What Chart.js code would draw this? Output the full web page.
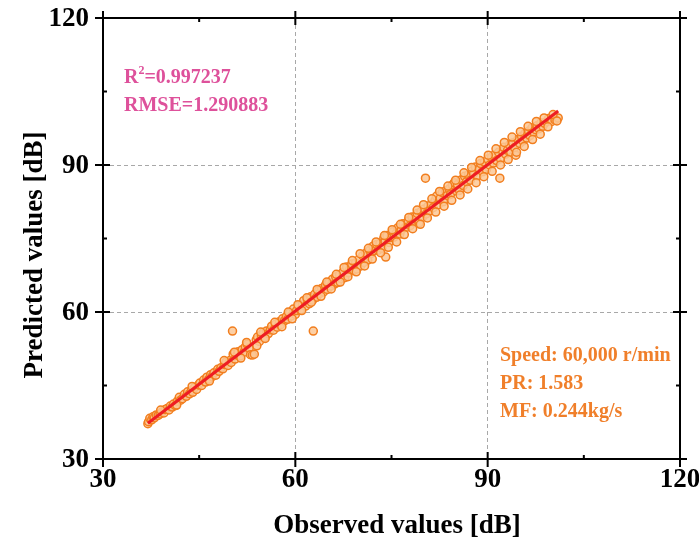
<!DOCTYPE html>
<html>
<head>
<meta charset="utf-8">
<script src="https://cdn.jsdelivr.net/npm/chart.js@4.4.1/dist/chart.umd.min.js"></script>
<style>
  html, body { margin: 0; padding: 0; background: #fff; }
  #wrap { width: 699px; height: 544px; }
</style>
</head>
<body>
<div id="wrap"><canvas id="fitChart" width="699" height="544"></canvas></div>
<script>
// observed / predicted pairs
const observed = [
  37.0, 37.1, 37.3, 37.6, 37.8, 38.0, 38.3, 38.6, 38.9, 39.2, 39.5, 39.7, 40.0, 40.3, 40.5, 40.8,
  41.0, 41.3, 41.6, 41.9, 42.1, 42.4, 42.7, 43.0, 43.2, 43.5, 43.8, 44.0, 44.3, 44.6, 44.9, 45.1,
  45.4, 45.7, 46.0, 46.2, 46.5, 46.8, 47.0, 47.3, 47.6, 47.9, 48.1, 48.4, 48.7, 49.0, 49.2, 49.5,
  49.8, 50.0, 50.2, 50.3, 50.6, 50.9, 51.1, 51.4, 51.7, 52.0, 52.2, 52.5, 52.8, 53.0, 53.3, 53.6,
  53.9, 54.1, 54.4, 54.7, 55.0, 55.2, 55.5, 55.8, 56.1, 56.3, 56.6, 56.9, 57.2, 57.5, 57.7, 58.0,
  58.3, 58.6, 58.8, 59.1, 59.4, 59.7, 60.0, 60.2, 60.5, 60.8, 61.1, 61.3, 61.6, 61.9, 62.2, 62.4,
  62.8, 62.7, 63.0, 63.3, 63.6, 63.8, 64.1, 64.4, 64.7, 65.0, 65.2, 65.5, 65.8, 66.1, 66.3, 66.6,
  66.9, 67.2, 67.4, 67.7, 68.0, 68.3, 68.5, 68.8, 69.1, 69.4, 69.6, 69.9, 70.2, 70.5, 70.7, 71.0,
  71.3, 71.6, 71.8, 72.1, 72.4, 72.7, 72.9, 73.2, 73.5, 73.8, 74.0, 74.1, 74.3, 74.6, 74.9, 75.2,
  75.4, 75.7, 76.0, 76.3, 76.5, 76.8, 77.1, 77.4, 77.6, 77.9, 78.2, 78.5, 78.7, 79.0, 79.3, 79.6,
  79.8, 80.1, 80.3, 80.4, 80.7, 80.9, 81.2, 81.5, 81.8, 82.0, 82.3, 82.6, 82.9, 83.1, 83.4, 83.7,
  84.0, 84.2, 84.5, 84.8, 85.1, 85.3, 85.6, 85.9, 86.2, 86.4, 86.7, 87.0, 87.3, 87.6, 87.8, 88.1,
  88.4, 88.7, 88.9, 89.2, 89.5, 89.8, 90.0, 90.3, 90.6, 90.9, 91.1, 91.4, 91.7, 91.9, 92.0, 92.3,
  92.5, 92.8, 93.1, 93.4, 93.6, 93.9, 94.2, 94.4, 94.7, 95.0, 95.3, 95.5, 95.8, 96.1, 96.4, 96.6,
  96.9, 97.2, 97.5, 97.7, 98.0, 98.3, 98.6, 98.9, 99.2, 99.5, 100.0, 100.5, 101.0,
  39.0, 41.5, 43.9, 46.6, 48.9, 50.5, 51.5, 52.4, 54.0, 54.6,
  55.3, 56.8, 57.9, 58.9, 59.5, 60.4, 61.0, 61.8, 62.5, 63.4, 64.0, 64.9, 65.6, 66.4, 67.0,
  67.6, 68.2, 68.9, 69.5, 70.1, 70.8, 71.4, 72.0, 72.6, 73.3, 73.9, 74.5, 75.1, 75.8, 76.4,
  77.0, 77.7, 78.3, 79.0, 79.5,
  80.0, 80.6, 81.3, 81.9, 82.5, 83.2, 83.8, 84.4, 85.0, 85.7, 86.3, 86.9, 87.5, 88.2, 88.8,
  89.4, 90.1, 90.7, 91.3, 92.0, 92.6, 93.2, 93.8, 94.5, 95.1, 95.7, 96.3, 97.0, 97.6, 98.2,
  98.8, 99.4, 100.2, 100.8
];
const predicted = [
  37.2, 37.6, 38.3, 38.0, 38.6, 38.4, 39.0, 38.9, 39.2, 39.6, 39.4, 40.1, 40.3, 40.0, 40.8, 40.6,
  41.2, 40.9, 41.8, 42.6, 42.0, 42.3, 43.2, 42.8, 43.7, 43.3, 44.0, 43.6, 44.6, 44.2, 45.1, 45.5,
  45.0, 46.1, 45.7, 46.7, 46.3, 47.2, 46.8, 47.6, 47.1, 48.3, 47.9, 48.6, 48.4, 49.3, 49.8, 49.1,
  50.1, 49.7, 56.1, 51.4, 50.4, 51.2, 51.9, 51.0, 52.3, 51.8, 52.9, 53.4, 52.6, 51.3, 51.2, 51.4,
  54.3, 54.9, 54.0, 55.3, 55.8, 54.8, 56.1, 55.6, 56.4, 57.1, 56.3, 57.5, 56.9, 58.0, 57.4, 58.6,
  58.2, 59.1, 58.5, 59.8, 59.2, 60.6, 59.5, 60.3, 61.2, 60.4, 61.5, 62.3, 61.2, 62.6, 61.7, 63.1,
  56.1, 62.4, 63.6, 63.0, 64.3, 63.8, 64.8, 64.1, 65.5, 64.6, 66.0, 65.3, 66.7, 65.7, 67.2, 66.0,
  67.6, 66.8, 68.1, 67.0, 69.2, 68.0, 68.7, 69.8, 68.5, 70.0, 68.8, 70.7, 69.4, 71.5, 70.1, 72.0,
  70.6, 72.6, 71.9, 73.4, 72.5, 73.8, 72.6, 74.0, 73.0, 75.1, 74.4, 71.2, 75.6, 74.2, 75.2, 76.4,
  75.3, 76.0, 77.2, 75.9, 76.7, 78.0, 77.2, 77.3, 78.6, 77.6, 79.4, 78.3, 79.0, 80.1, 78.2, 80.5,
  79.3, 81.0, 87.3, 80.0, 81.6, 80.6, 82.0, 81.3, 82.8, 83.6, 81.9, 83.2, 84.4, 82.5, 84.7, 83.8,
  85.1, 84.0, 85.9, 86.4, 84.7, 86.0, 84.8, 87.0, 85.8, 87.7, 86.6, 88.0, 86.9, 88.8, 88.2, 89.6,
  87.8, 89.2, 90.3, 88.6, 90.6, 89.1, 91.2, 90.0, 91.6, 90.4, 92.1, 90.9, 92.6, 87.3, 91.3, 92.9,
  93.6, 92.2, 93.0, 94.1, 92.6, 94.5, 93.5, 92.0, 95.2, 94.4, 95.8, 94.9, 96.4, 95.5, 96.9, 96.0,
  97.6, 96.7, 97.2, 98.0, 97.4, 98.6, 97.9, 98.5, 98.9, 99.5, 98.9, 99.2, 99.6,
  40.0, 41.0, 44.8, 45.9, 50.1, 51.8, 50.6, 53.8, 53.1, 55.9,
  54.6, 57.9, 57.0, 60.0, 58.6, 61.5, 60.3, 62.9, 62.0, 64.6, 63.2, 66.1, 64.7, 67.7, 66.1,
  69.1, 67.2, 70.5, 68.2, 71.9, 69.4, 73.0, 70.8, 74.3, 72.1, 75.6, 73.2, 76.8, 74.3, 77.9,
  75.8, 79.3, 77.0, 80.8, 77.9,
  81.9, 79.2, 83.1, 80.4, 84.6, 81.6, 85.7, 82.8, 86.9, 83.9, 88.4, 85.1, 89.5, 86.4, 90.9,
  87.6, 92.0, 88.7, 93.3, 90.0, 94.6, 91.1, 95.7, 92.6, 96.8, 93.8, 97.9, 95.2, 98.9, 96.3,
  99.6, 97.8, 100.3, 99.0
];
const axisMin = 30;
const axisMax = 120;
const majorTicks = [30, 60, 90, 120];
const minorTicks = [45, 75, 105];
const statLines = ['R2=0.997237', 'RMSE=1.290883'];
const infoLines = ['Speed: 60,000 r/min', 'PR: 1.583', 'MF: 0.244kg/s'];
const xTitle = 'Observed values [dB]';
const yTitle = 'Predicted values [dB]';

const points = observed.map((x, i) => ({ x: x, y: predicted[i] }));

// least squares fit through the points
const n = observed.length;
const mx = observed.reduce((a, b) => a + b, 0) / n;
const my = predicted.reduce((a, b) => a + b, 0) / n;
let sxy = 0, sxx = 0;
observed.forEach((x, i) => { sxy += (x - mx) * (predicted[i] - my); sxx += (x - mx) * (x - mx); });
const slope = sxy / sxx;
const icpt = my - slope * mx;
const xLo = Math.min(...observed), xHi = Math.max(...observed);
const fitLine = [{ x: xLo, y: icpt + slope * xLo }, { x: xHi, y: icpt + slope * xHi }];

const serif = "'Liberation Serif', 'Times New Roman', serif";

const framePlugin = {
  id: 'frame',
  afterDraw(chart) {
    const { ctx, chartArea: a, scales } = chart;
    ctx.save();
    ctx.strokeStyle = '#000';
    ctx.lineWidth = 2;
    ctx.strokeRect(a.left, a.top, a.right - a.left, a.bottom - a.top);
    majorTicks.forEach(v => {
      const px = scales.x.getPixelForValue(v), py = scales.y.getPixelForValue(v);
      ctx.beginPath();
      ctx.moveTo(px, a.bottom - 7); ctx.lineTo(px, a.bottom + 8);
      ctx.moveTo(a.left - 8, py); ctx.lineTo(a.left + 7, py);
      ctx.moveTo(px, a.top - 7); ctx.lineTo(px, a.top + 7);
      ctx.moveTo(a.right - 7, py); ctx.lineTo(a.right + 7, py);
      ctx.stroke();
    });
    minorTicks.forEach(v => {
      const px = scales.x.getPixelForValue(v), py = scales.y.getPixelForValue(v);
      ctx.beginPath();
      ctx.moveTo(px, a.bottom); ctx.lineTo(px, a.bottom - 4);
      ctx.moveTo(a.left, py); ctx.lineTo(a.left + 4, py);
      ctx.moveTo(px, a.top); ctx.lineTo(px, a.top + 4);
      ctx.moveTo(a.right, py); ctx.lineTo(a.right - 4, py);
      ctx.stroke();
    });

    // tick labels
    ctx.fillStyle = '#000';
    ctx.font = 'bold 27px ' + serif;
    ctx.textBaseline = 'middle';
    ctx.textAlign = 'right';
    majorTicks.forEach(v => ctx.fillText(String(v), a.left - 14, scales.y.getPixelForValue(v) + 1));
    ctx.textAlign = 'center';
    majorTicks.forEach(v => ctx.fillText(String(v), scales.x.getPixelForValue(v), a.bottom + 21));

    // axis titles
    ctx.fillText(xTitle, 397, 526);
    ctx.save();
    ctx.translate(35, 255);
    ctx.rotate(-Math.PI / 2);
    ctx.fillText(yTitle, 0, 0);
    ctx.restore();

    // statistics text (pink) with superscript 2
    ctx.fillStyle = '#DE519B';
    ctx.font = 'bold 20px ' + serif;
    ctx.textBaseline = 'alphabetic';
    ctx.textAlign = 'left';
    const sx = a.left + 21;
    ctx.fillText('R', sx, 83);
    const rw = ctx.measureText('R').width;
    ctx.font = 'bold 12px ' + serif;
    ctx.fillText('2', sx + rw, 74);
    const sw = ctx.measureText('2').width;
    ctx.font = 'bold 20px ' + serif;
    ctx.fillText(statLines[0].slice(2), sx + rw + sw, 83);
    ctx.fillText(statLines[1], sx, 111);

    // operating condition text (orange)
    ctx.fillStyle = '#F07F2A';
    infoLines.forEach((t, i) => ctx.fillText(t, 500, 361 + i * 28));
    ctx.restore();
  }
};

const gridColor = c => (c.tick && (c.tick.value === 60 || c.tick.value === 90)) ? '#a8a8a8' : 'rgba(0,0,0,0)';

const chart = new Chart(document.getElementById('fitChart'), {
  type: 'scatter',
  data: {
    datasets: [
      {
        type: 'line',
        data: fitLine,
        borderColor: '#EE1D23',
        borderWidth: 3,
        pointRadius: 0,
        fill: false
      },
      {
        data: points,
        pointRadius: 4,
        pointBorderWidth: 1.5,
        pointBorderColor: '#F27E1E',
        pointBackgroundColor: 'rgba(252,200,150,0.85)'
      }
    ]
  },
  plugins: [framePlugin],
  options: {
    responsive: false,
    animation: false,
    layout: { padding: { top: 18, right: 19, left: 0, bottom: 0 } },
    plugins: { legend: { display: false }, tooltip: { enabled: false } },
    scales: {
      x: {
        type: 'linear',
        min: axisMin, max: axisMax,
        afterFit(s) { s.height = 85; },
        ticks: { display: false, stepSize: 15 },
        grid: { drawTicks: false, color: gridColor, lineWidth: 1 },
        border: { display: false, dash: [4, 3] }
      },
      y: {
        type: 'linear',
        min: axisMin, max: axisMax,
        afterFit(s) { s.width = 103; },
        ticks: { display: false, stepSize: 15 },
        grid: { drawTicks: false, color: gridColor, lineWidth: 1 },
        border: { display: false, dash: [4, 3] }
      }
    }
  }
});
</script>
</body>
</html>
